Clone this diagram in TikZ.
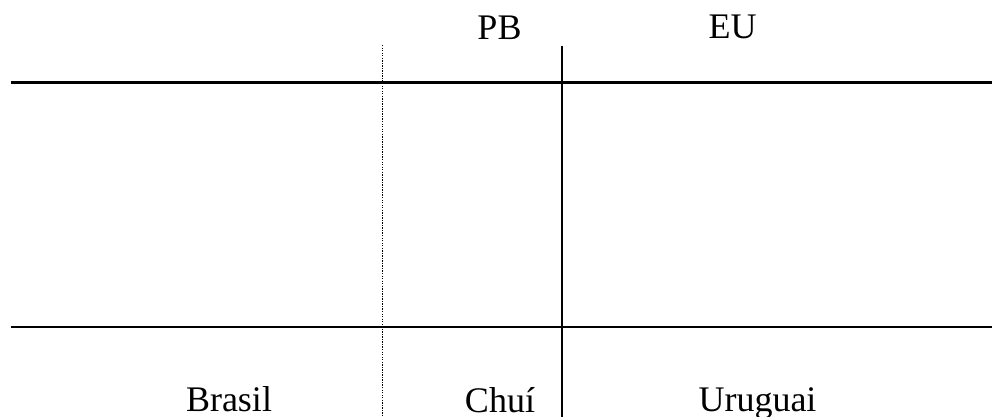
\documentclass[tikz,border=0pt]{standalone}
\usepackage{fontspec}
\setmainfont{Liberation Serif}
\begin{document}
\begin{tikzpicture}[x=0.75pt,y=-0.75pt,
  rule/.style={line width=1.8pt},
  border/.style={line width=1.1pt,dash pattern=on 1pt off 0.9pt},
  lbl/.style={inner sep=0pt,anchor=base,font=\fontsize{27}{30}\selectfont}]
  \useasboundingbox (0,0) rectangle (992,417);
  % frame coordinates
  \coordinate (hTopL) at (11,82.7);
  \coordinate (hTopR) at (992,82.7);
  \coordinate (hBotL) at (11,326.7);
  \coordinate (hBotR) at (992,326.7);
  \coordinate (dTop) at (382.7,45);
  \coordinate (dBot) at (382.7,417);
  \coordinate (sTop) at (561.7,46);
  \coordinate (sBot) at (561.7,417);
  % horizontal rules
  \draw[rule] (hTopL) -- (hTopR);
  \draw[rule] (hBotL) -- (hBotR);
  % dotted and solid verticals
  \draw[border] (dTop) -- (dBot);
  \draw[rule] (sTop) -- (sBot);
  % labels
  \node[lbl] (pb) at (499.5,39.5) {PB};
  \node[lbl] (eu) at (732.5,39) {EU};
  \node[lbl] (br) at (229,411.5) {Brasil};
  \node[lbl] (ch) at (500,412.5) {Chuí};
  \node[lbl] (uy) at (757.5,411.5) {Uruguai};
\end{tikzpicture}
\end{document}
